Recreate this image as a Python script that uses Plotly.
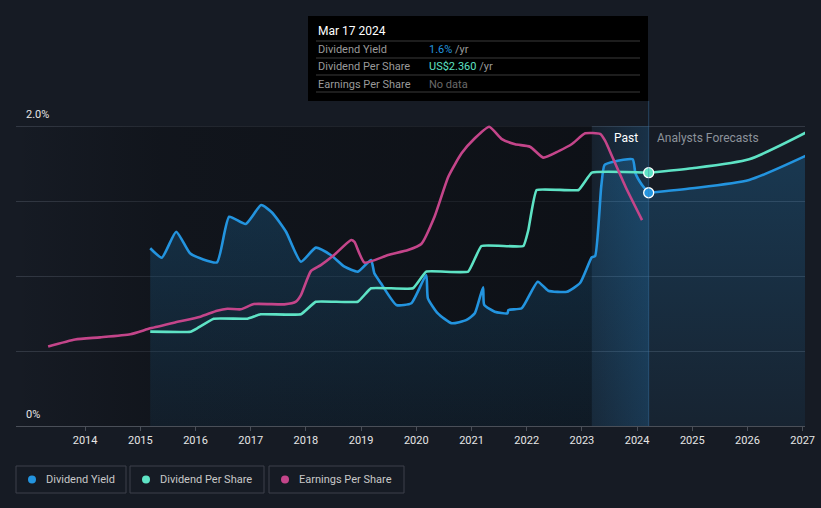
import plotly.graph_objects as go

# ---------------- data (decimal years) ----------------
yield_x = [2015.18, 2015.39, 2015.65, 2015.90, 2016.12, 2016.39, 2016.61, 2016.91, 2017.19, 2017.39,
           2017.64, 2017.91, 2018.18, 2018.45, 2018.70, 2018.94, 2019.18, 2019.24, 2019.36, 2019.64,
           2019.91, 2020.18, 2020.21, 2020.39, 2020.64, 2020.91, 2021.06, 2021.21, 2021.23, 2021.42,
           2021.65, 2021.67, 2021.91, 2022.20, 2022.39, 2022.73, 2022.97, 2023.18, 2023.24, 2023.35,
           2023.41, 2023.57, 2023.92, 2023.97, 2024.09, 2024.21]
yield_y = [1.185, 1.122, 1.295, 1.151, 1.113, 1.091, 1.395, 1.347, 1.473, 1.422,
           1.295, 1.095, 1.189, 1.140, 1.062, 1.029, 1.107, 1.018, 0.951, 0.807,
           0.818, 1.007, 0.851, 0.751, 0.685, 0.707, 0.751, 0.925, 0.807, 0.762,
           0.751, 0.773, 0.785, 0.962, 0.902, 0.895, 0.955, 1.125, 1.133, 1.595,
           1.740, 1.762, 1.778, 1.685, 1.607, 1.555]
yield_fc_x = [2024.21, 2025.00, 2026.03, 2027.09]
yield_fc_y = [1.555, 1.585, 1.640, 1.807]

dps_x = [2015.18, 2015.91, 2016.03, 2016.33, 2016.94, 2017.18, 2017.91, 2018.18, 2018.94, 2019.18,
         2019.94, 2020.18, 2020.94, 2021.18, 2021.94, 2022.03, 2022.18, 2022.94, 2023.18, 2024.21]
dps_y = [0.879, 0.879, 0.910, 1.000, 1.000, 1.041, 1.041, 1.158, 1.158, 1.283,
         1.283, 1.438, 1.438, 1.677, 1.677, 1.826, 2.199, 2.199, 2.360, 2.360]
dps_fc_x = [2024.21, 2025.00, 2026.03, 2027.09]
dps_fc_y = [2.360, 2.401, 2.485, 2.742]

eps_x = [2013.33, 2013.82, 2014.27, 2014.82, 2015.18, 2015.61, 2016.09, 2016.39, 2016.58, 2016.82,
         2017.06, 2017.61, 2017.82, 2017.91, 2018.09, 2018.27, 2018.51, 2018.82, 2018.88, 2019.06,
         2019.49, 2019.85, 2020.09, 2020.33, 2020.58, 2020.82, 2021.06, 2021.32, 2021.55, 2021.79,
         2022.06, 2022.30, 2022.58, 2022.82, 2023.06, 2023.33, 2023.42, 2023.55, 2023.79, 2024.09]
eps_y = [5.30, 5.77, 5.91, 6.12, 6.51, 6.89, 7.29, 7.69, 7.82, 7.78,
         8.13, 8.11, 8.29, 8.73, 10.33, 10.73, 11.40, 12.40, 12.27, 10.89,
         11.40, 11.73, 12.13, 13.95, 16.62, 18.18, 19.18, 19.95, 19.13, 18.78,
         18.62, 17.89, 18.33, 18.80, 19.51, 19.47, 19.02, 17.95, 15.95, 13.73]

tick_years = list(range(2014, 2028))
tick_labels = [str(y) for y in tick_years]

# ---------------- layout geometry ----------------
W, H = 821, 508
L, R, T, B = 16, 16, 16, 82
X0, X1 = 2012.748, 2027.042
PAST_START, NOW = 2023.18, 2024.21

BG = "#161b24"
BLUE = "#2394df"
TEAL = "#5ee3c5"
PINK = "#c4458a"
FONT = "Roboto"


def px(x):
    return (x - L) / (W - L - R)


def py(y):
    return (H - B - y) / (H - T - B)


fig = go.Figure()

# dark "past" backdrop (horizontal gradient)
fig.add_trace(go.Scatter(
    x=[X0, PAST_START, PAST_START, X0, X0], y=[0, 0, 2.0, 2.0, 0],
    mode="lines", line=dict(width=0), fill="toself",
    fillgradient=dict(type="horizontal",
                      colorscale=[[0, "rgba(8,10,14,0.0)"], [0.25, "rgba(8,10,14,0.35)"], [1, "rgba(8,10,14,0.6)"]]),
    hoverinfo="skip", showlegend=False))

# past highlight band
fig.add_trace(go.Scatter(
    x=[PAST_START, NOW, NOW, PAST_START, PAST_START], y=[0, 0, 2.0, 2.0, 0],
    mode="lines", line=dict(width=0), fill="toself",
    fillgradient=dict(type="horizontal",
                      colorscale=[[0, "rgba(35,130,200,0.06)"], [1, "rgba(35,130,200,0.22)"]]),
    hoverinfo="skip", showlegend=False))

# dividend yield area
fill_scale = [[0, "rgba(35,148,223,0.07)"], [1, "rgba(35,148,223,0.24)"]]
fig.add_trace(go.Scatter(
    x=yield_x, y=yield_y, mode="lines", line=dict(color=BLUE, width=2.6, shape="spline", smoothing=0.5),
    fill="tozeroy", fillgradient=dict(type="vertical", colorscale=fill_scale),
    hoverinfo="skip", showlegend=False))
fig.add_trace(go.Scatter(
    x=yield_fc_x, y=yield_fc_y, mode="lines", line=dict(color=BLUE, width=2.6, shape="spline", smoothing=0.6),
    fill="tozeroy", fillgradient=dict(type="vertical", colorscale=fill_scale),
    hoverinfo="skip", showlegend=False))

# dividend per share
fig.add_trace(go.Scatter(
    x=dps_x, y=dps_y, yaxis="y2", mode="lines",
    line=dict(color=TEAL, width=2.6, shape="spline", smoothing=0.3),
    hoverinfo="skip", showlegend=False))
fig.add_trace(go.Scatter(
    x=dps_fc_x, y=dps_fc_y, yaxis="y2", mode="lines",
    line=dict(color=TEAL, width=2.6, shape="spline", smoothing=0.6),
    hoverinfo="skip", showlegend=False))

# earnings per share
fig.add_trace(go.Scatter(
    x=eps_x, y=eps_y, yaxis="y3", mode="lines",
    line=dict(color=PINK, width=2.6, shape="spline", smoothing=0.5),
    hoverinfo="skip", showlegend=False))

# current-point markers
fig.add_trace(go.Scatter(
    x=[dps_fc_x[0]], y=[dps_fc_y[0]], yaxis="y2", mode="markers",
    marker=dict(color=TEAL, size=10, line=dict(color="white", width=1.3)),
    hoverinfo="skip", showlegend=False))
fig.add_trace(go.Scatter(
    x=[yield_fc_x[0]], y=[yield_fc_y[0]], mode="markers",
    marker=dict(color=BLUE, size=10, line=dict(color="white", width=1.3)),
    hoverinfo="skip", showlegend=False))

shapes = []
annotations = []

# vertical "now" line
shapes.append(dict(type="line", xref="x", yref="paper", x0=NOW, x1=NOW, y0=0, y1=py(101),
                   line=dict(color="rgba(60,120,170,0.45)", width=1), layer="above"))

# tooltip box
shapes.append(dict(type="rect", xref="paper", yref="paper", x0=px(308), x1=px(648), y0=py(101), y1=py(16),
                   fillcolor="#000000", line=dict(width=0), layer="above"))
for sy in [41, 58, 75, 92]:
    shapes.append(dict(type="line", xref="paper", yref="paper", x0=px(316), x1=px(640), y0=py(sy), y1=py(sy),
                       line=dict(color="#3a3a3a", width=1), layer="above"))
annotations.append(dict(xref="paper", yref="paper", x=px(316), y=py(31), text="Mar 17 2024",
                        xanchor="left", yanchor="middle", showarrow=False,
                        font=dict(family=FONT, size=12, color="#ffffff")))
rows = [
    ("Dividend Yield", f"<span style='color:{BLUE}'>1.6%</span> /yr", 49.5),
    ("Dividend Per Share", f"<span style='color:{TEAL}'>US$2.360</span> /yr", 66.5),
    ("Earnings Per Share", "<span style='color:#6a6a6a'>No data</span>", 84),
]
for lab, val, yy in rows:
    annotations.append(dict(xref="paper", yref="paper", x=px(316), y=py(yy), text=lab,
                            xanchor="left", yanchor="middle", showarrow=False,
                            font=dict(family=FONT, size=11, color="#9a9a9a")))
    annotations.append(dict(xref="paper", yref="paper", x=px(427), y=py(yy), text=val,
                            xanchor="left", yanchor="middle", showarrow=False,
                            font=dict(family=FONT, size=11, color="#9a9a9a")))

# Past / Analysts Forecasts labels
annotations.append(dict(xref="paper", yref="paper", x=px(640), y=py(138), text="Past",
                        xanchor="right", yanchor="middle", showarrow=False,
                        font=dict(family=FONT, size=12, color="#ffffff")))
annotations.append(dict(xref="paper", yref="paper", x=px(655), y=py(138), text="Analysts Forecasts",
                        xanchor="left", yanchor="middle", showarrow=False,
                        font=dict(family=FONT, size=12, color="#8c929a")))

# y labels
annotations.append(dict(xref="paper", yref="paper", x=px(24), y=py(114), text="2.0%",
                        xanchor="left", yanchor="middle", showarrow=False,
                        font=dict(family=FONT, size=11, color="#e6e6e6")))
annotations.append(dict(xref="paper", yref="paper", x=px(24), y=py(414), text="0%",
                        xanchor="left", yanchor="middle", showarrow=False,
                        font=dict(family=FONT, size=11, color="#e6e6e6")))

# custom legend
legend_items = [("Dividend Yield", BLUE, 16, 126), ("Dividend Per Share", TEAL, 130, 264),
                ("Earnings Per Share", PINK, 269, 404)]
for name, col, bx0, bx1 in legend_items:
    shapes.append(dict(type="rect", xref="paper", yref="paper", x0=px(bx0), x1=px(bx1), y0=py(493), y1=py(466),
                       line=dict(color="#3c414b", width=1), fillcolor="rgba(0,0,0,0)"))
    cx = bx0 + 16
    shapes.append(dict(type="circle", xref="paper", yref="paper", x0=px(cx - 4), x1=px(cx + 4),
                       y0=py(483.5), y1=py(475.5), fillcolor=col, line=dict(width=0)))
    annotations.append(dict(xref="paper", yref="paper", x=px(bx0 + 28), y=py(479.5), text=name,
                            xanchor="left", yanchor="middle", showarrow=False,
                            font=dict(family=FONT, size=11, color="#c8c8c8")))

fig.update_layout(
    width=W, height=H,
    margin=dict(l=L, r=R, t=T, b=B, autoexpand=False),
    paper_bgcolor=BG, plot_bgcolor=BG,
    showlegend=False,
    font=dict(family=FONT),
    xaxis=dict(range=[X0, X1], tickvals=tick_years, ticktext=tick_labels, showgrid=False, zeroline=False,
               automargin=False,
               showline=True, linecolor="#4a4f58", linewidth=1, ticks="outside", ticklen=4, tickcolor="#4a4f58",
               tickfont=dict(family=FONT, size=11, color="#e6e6e6")),
    yaxis=dict(range=[0, (H - B - T) / 150], tickvals=[0, 0.5, 1.0, 1.5, 2.0], showticklabels=False,
               automargin=False,
               showgrid=True, gridcolor="#323843", gridwidth=1, zeroline=False, fixedrange=True),
    yaxis2=dict(range=[0, (H - B - T) * 2.36 / 253.3], overlaying="y", visible=False),
    yaxis3=dict(range=[0, (H - B - T) / 15], overlaying="y", visible=False),
    shapes=shapes, annotations=annotations,
)

fig.write_html("out.html", config={"displayModeBar": False},
               post_script="document.body.style.margin='0';document.body.style.background='" + BG + "';")
